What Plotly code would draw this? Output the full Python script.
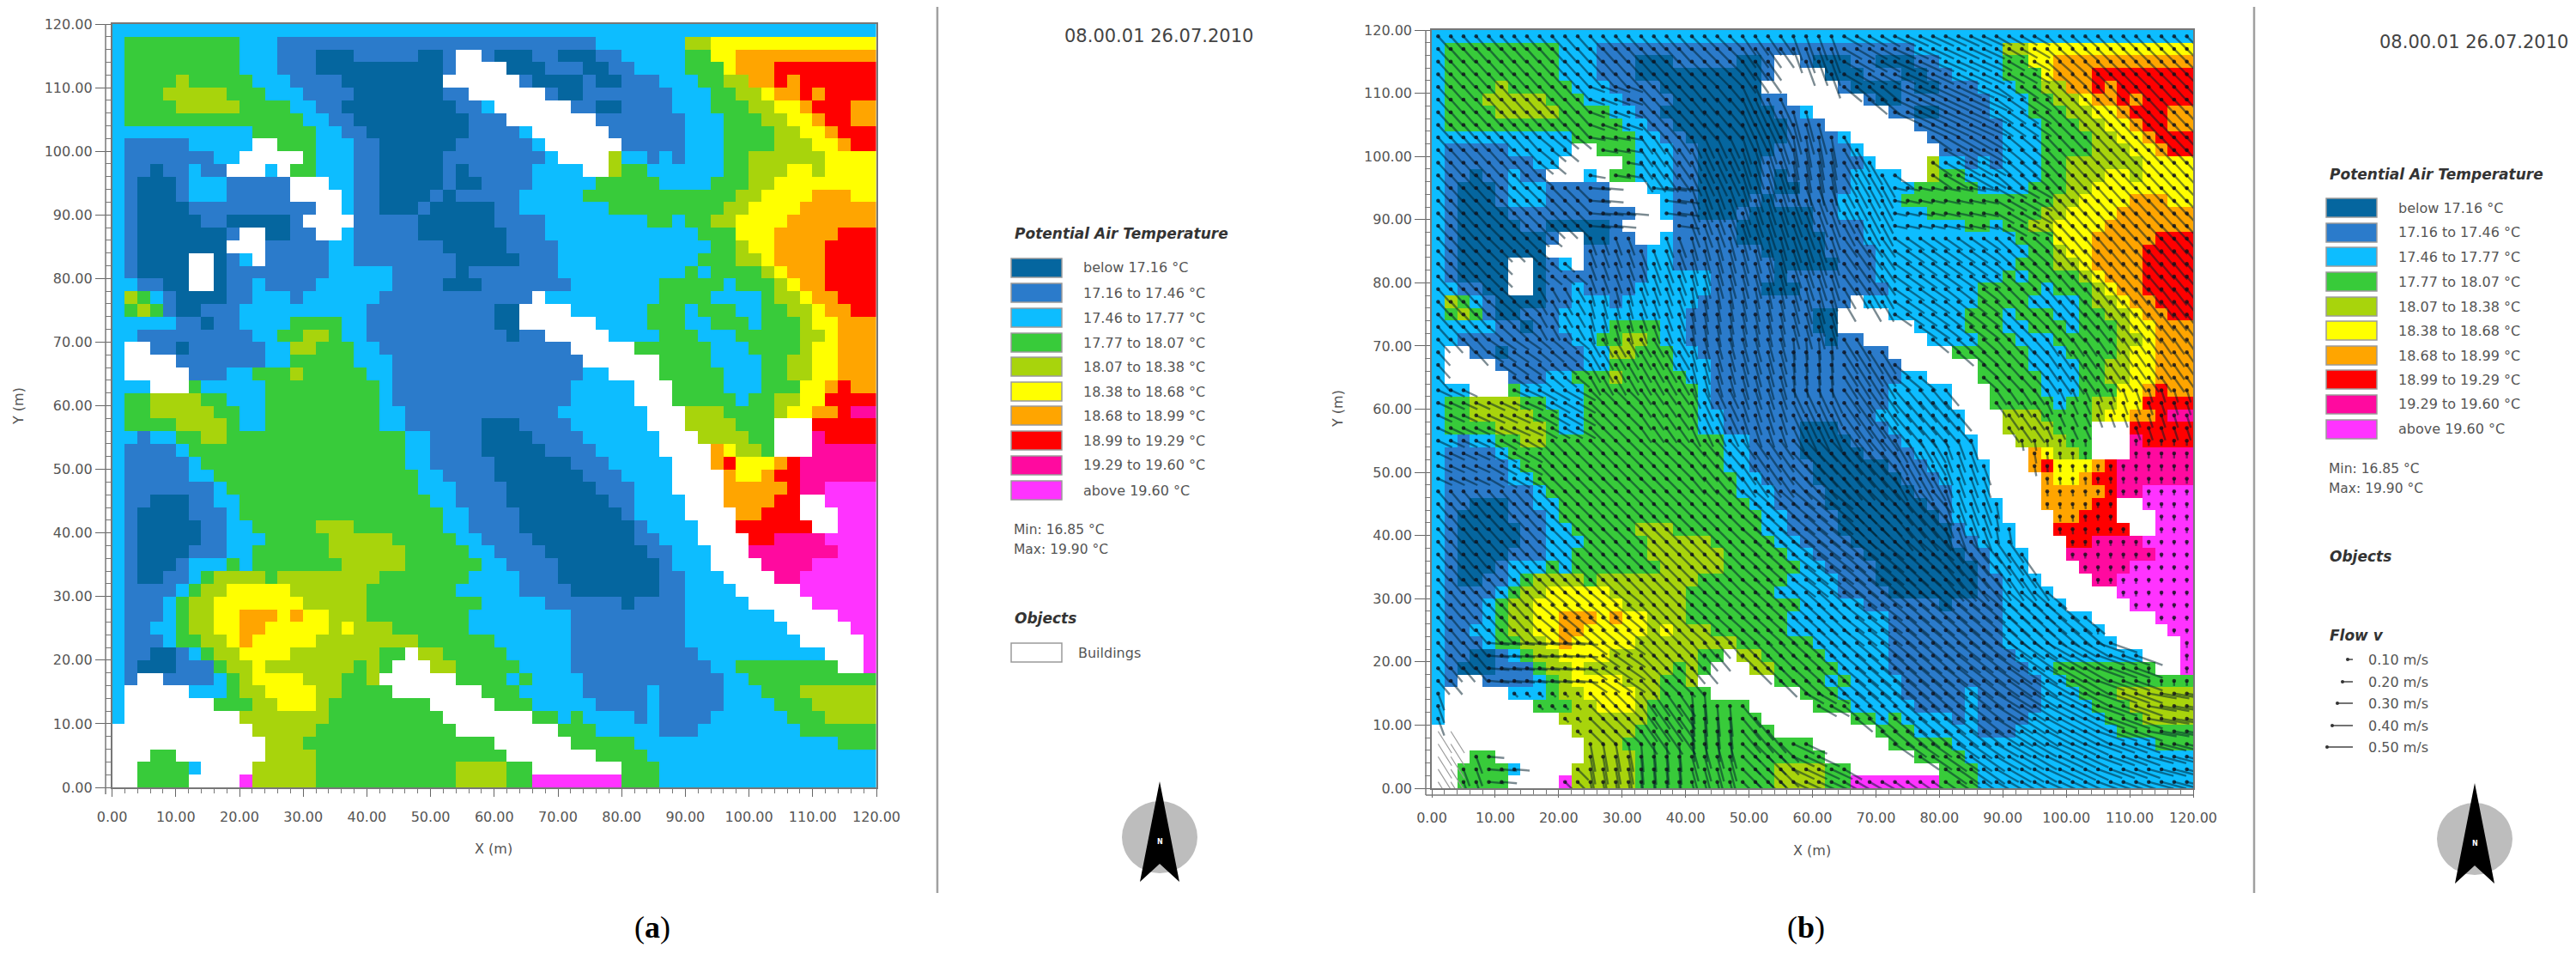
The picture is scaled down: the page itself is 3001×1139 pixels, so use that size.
"""Two ENVI-met style temperature maps, (a) plain and (b) with the flow field on top."""
import math

import plotly.graph_objects as go

WIDTH = 3001
HEIGHT = 1139
FONT = "DejaVu Sans"

LEVEL_LABELS = [
    "below 17.16 °C", "17.16 to 17.46 °C", "17.46 to 17.77 °C", "17.77 to 18.07 °C",
    "18.07 to 18.38 °C", "18.38 to 18.68 °C", "18.68 to 18.99 °C", "18.99 to 19.29 °C",
    "19.29 to 19.60 °C", "above 19.60 °C",
]
LEVEL_COLORS = ["#05669f", "#2b7bcb", "#0dbdff", "#38cb3a", "#a8d40c",
                "#ffff00", "#ffa500", "#ff0000", "#ff0a9f", "#ff33ff"]
FLOW_V = [0.10, 0.20, 0.30, 0.40, 0.50]

# class of each 2 m cell, top row first: "class:last column of the run", w = building
TEMP_RUNS = [
    "2:59",
    "2:0 3:9 2:12 1:37 2:44 4:46 5:59",
    "2:0 3:9 2:12 1:15 0:18 1:23 0:25 1:26 w:28 1:29 0:32 1:34 0:37 1:39 2:44 3:46 5:48 6:59",
    "2:0 3:9 2:12 1:15 0:25 1:26 w:30 0:33 1:36 0:38 1:40 2:44 3:47 5:48 6:51 7:59",
    "2:0 3:4 4:5 3:10 2:13 1:17 0:25 w:31 1:32 0:36 1:37 0:39 1:42 2:45 3:47 4:49 6:51 7:52 6:53 7:59",
    "2:0 3:3 4:8 3:11 2:14 1:18 0:25 1:27 w:33 1:34 0:36 1:43 2:46 3:48 4:50 5:51 6:53 7:54 6:55 7:59",
    "2:0 3:4 4:9 3:13 2:15 1:17 0:26 1:28 2:29 w:35 1:37 0:39 1:43 2:46 3:49 4:51 5:53 6:54 7:57 6:59",
    "2:0 3:14 2:16 1:18 0:27 1:30 w:37 1:44 2:47 3:50 4:52 5:54 6:55 7:57 6:59",
    "2:10 3:15 2:17 1:19 0:27 1:31 2:32 w:38 1:44 2:47 3:51 4:53 5:55 6:56 7:59",
    "2:0 1:5 2:10 w:12 3:15 2:18 1:20 0:26 1:32 2:33 w:39 1:44 2:47 3:51 4:54 5:56 6:57 7:59",
    "2:0 1:7 2:9 w:14 3:15 2:18 1:20 0:25 1:33 2:34 w:38 4:39 2:41 1:42 2:43 1:44 2:47 3:49 4:55 5:59",
    "2:0 1:2 0:3 1:5 2:6 1:8 w:11 2:12 w:13 3:15 2:18 1:20 0:25 1:26 0:27 1:32 2:36 w:38 4:39 3:41 2:47 3:49 4:52 5:54 4:55 5:59",
    "2:0 1:1 0:4 1:5 2:8 1:13 w:16 2:18 1:20 0:25 1:26 0:28 1:32 2:37 3:42 2:46 3:49 4:51 5:59",
    "2:0 1:1 0:4 1:5 2:8 1:13 w:17 2:18 1:20 0:24 1:25 0:26 1:31 2:36 3:48 4:50 5:54 6:57 5:59",
    "2:0 1:1 0:5 1:15 w:17 2:18 1:20 0:23 1:24 0:29 1:31 2:38 3:47 4:49 5:53 6:59",
    "2:0 1:1 0:6 1:8 0:13 1:14 w:18 1:23 0:29 1:33 2:41 3:43 2:44 3:46 4:48 5:52 6:59",
    "2:0 1:1 0:8 1:9 w:11 0:13 1:15 w:17 2:18 1:23 0:30 1:33 2:45 3:48 5:51 6:56 7:59",
    "2:0 1:1 0:8 w:11 1:16 2:18 1:25 0:30 1:34 2:46 3:48 4:49 5:51 6:55 7:59",
    "2:0 1:1 0:5 w:7 0:8 1:9 2:10 w:11 1:16 2:18 1:26 0:31 1:34 2:45 3:48 4:50 5:51 6:55 7:59",
    "2:0 1:1 0:5 w:7 0:8 1:16 2:21 1:26 0:27 1:34 2:44 3:45 2:46 3:50 4:51 5:52 6:55 7:59",
    "2:1 1:3 0:5 w:7 0:8 1:10 2:11 1:15 2:21 1:25 0:28 1:35 2:42 3:47 2:48 3:51 4:52 5:53 6:55 7:59",
    "2:0 4:1 3:2 2:3 1:4 0:8 1:10 2:13 1:14 2:20 1:32 w:33 2:42 3:46 2:50 3:51 4:53 5:54 6:56 7:59",
    "2:0 3:1 4:2 3:3 1:4 0:6 1:9 2:19 1:29 0:31 w:35 2:41 3:44 2:45 3:48 2:50 3:52 4:54 5:55 6:57 7:59",
    "2:4 1:6 0:7 1:9 2:13 3:17 2:19 1:29 0:31 w:37 2:41 3:44 2:46 3:49 2:50 3:53 4:54 5:56 6:59",
    "2:1 1:10 2:12 3:14 4:16 3:17 2:19 1:30 0:31 1:33 w:38 2:42 3:45 2:48 3:53 4:55 5:56 6:59",
    "2:0 w:2 1:4 0:5 1:11 2:13 4:15 3:18 2:20 1:35 w:40 3:46 2:49 3:53 4:54 5:56 6:59",
    "2:0 w:4 1:11 2:13 3:18 2:21 1:36 w:42 3:46 2:50 3:52 4:54 5:56 6:59",
    "2:0 w:5 1:8 2:10 3:13 4:14 3:19 2:21 1:36 2:38 w:42 3:47 2:50 3:52 4:54 5:56 6:59",
    "2:2 w:5 3:6 2:11 3:20 2:21 1:35 2:40 w:43 3:47 2:50 3:53 5:55 6:56 7:57 6:59",
    "2:0 3:2 4:6 3:8 2:11 3:20 2:21 1:35 2:40 w:43 3:48 2:49 3:51 4:53 5:55 7:59",
    "2:0 3:2 4:7 3:9 2:11 3:20 2:22 1:34 2:41 w:44 4:47 3:51 4:52 5:54 6:56 7:57 8:59",
    "2:0 3:4 4:8 3:9 2:11 3:20 2:22 1:28 0:31 1:35 2:41 w:44 4:48 3:51 w:54 7:59",
    "2:1 1:2 2:4 3:6 4:8 3:22 2:24 1:28 0:32 1:36 2:42 w:45 4:49 3:51 w:54 8:55 7:59",
    "2:0 1:4 2:5 3:22 2:24 1:28 0:33 1:37 2:42 w:46 6:47 5:48 4:50 3:51 w:54 8:59",
    "2:0 1:5 2:6 3:22 2:24 1:29 0:35 1:38 2:43 w:46 6:47 7:48 5:51 6:52 7:53 8:59",
    "2:0 1:5 2:7 3:23 2:25 1:29 0:36 1:39 2:43 w:47 6:48 5:50 6:51 7:53 8:59",
    "2:0 1:7 2:8 3:23 2:26 1:30 0:37 1:40 2:43 w:47 6:52 7:53 8:55 9:59",
    "2:0 1:2 0:5 1:7 2:9 3:24 2:26 1:30 0:38 1:40 2:44 w:47 6:51 7:53 w:55 9:59",
    "2:0 1:1 0:5 1:8 2:9 3:25 2:27 1:31 0:39 1:40 2:44 w:48 6:50 7:53 w:56 9:59",
    "2:0 1:1 0:6 1:8 2:10 3:15 4:18 3:25 2:27 1:31 0:40 1:41 2:45 w:48 7:54 w:56 9:59",
    "2:0 1:1 0:6 1:8 2:11 3:16 4:21 3:26 2:28 1:32 0:40 1:42 2:45 w:49 7:51 8:55 9:59",
    "2:0 1:1 0:5 1:8 2:10 3:16 4:22 3:27 2:29 1:33 0:41 1:43 2:46 w:49 8:56 9:59",
    "2:0 1:1 0:4 1:5 2:8 3:9 2:10 3:17 4:22 3:28 2:30 1:34 0:42 1:43 2:46 w:50 8:54 9:59",
    "2:0 1:1 0:3 1:5 2:6 3:7 4:11 3:12 4:20 3:27 2:31 1:34 0:42 1:44 2:47 w:51 8:53 9:59",
    "2:0 1:4 2:5 3:6 4:8 5:13 4:19 3:26 2:31 1:35 0:42 1:44 2:48 w:53 9:59",
    "2:0 1:3 2:4 3:5 4:7 5:14 4:19 3:28 2:33 1:39 0:40 1:44 2:49 w:54 9:59",
    "2:0 1:3 2:4 3:5 4:7 5:9 6:12 5:13 6:14 5:16 4:19 3:27 2:35 1:44 2:51 w:56 9:59",
    "2:0 1:2 2:4 3:5 4:7 5:9 6:11 5:16 4:17 5:18 4:21 3:27 2:35 1:44 2:52 w:57 9:59",
    "2:0 1:3 2:4 3:6 4:8 5:9 6:10 5:15 4:23 3:29 2:35 1:44 2:53 w:58 9:59",
    "2:0 1:2 0:4 1:5 2:6 3:7 4:9 5:13 4:20 3:22 w:23 4:25 3:30 2:35 1:45 2:55 w:58 9:59",
    "2:0 1:1 0:4 1:7 3:8 4:10 5:11 4:18 3:19 4:20 3:21 w:24 4:26 3:31 2:35 1:46 2:48 3:56 w:58 9:59",
    "2:0 1:1 w:3 1:7 2:8 3:9 4:10 5:14 4:17 3:19 4:20 w:26 3:30 2:31 3:32 2:36 1:47 2:49 3:59",
    "2:0 w:5 2:8 3:9 4:11 5:15 4:17 3:21 w:28 3:31 2:36 1:41 2:42 1:47 2:50 3:53 4:59",
    "2:0 w:7 3:10 4:12 5:15 4:16 3:24 w:29 3:32 2:37 1:41 2:42 1:47 2:51 3:54 4:59",
    "2:0 w:9 4:16 3:25 w:32 3:34 2:35 3:36 2:40 1:41 2:42 1:46 2:52 3:55 4:59",
    "w:10 4:15 3:26 w:34 3:37 2:42 1:45 2:53 3:59",
    "w:11 4:14 3:29 w:35 3:40 2:56 3:59",
    "w:2 3:4 w:11 4:15 3:30 w:37 3:41 2:59",
    "w:1 3:5 2:6 w:10 4:15 3:26 4:30 3:32 w:39 3:42 2:59",
    "w:1 3:5 w:9 9:10 4:15 3:26 4:30 3:32 9:39 3:42 2:59",
]

# flow read per 8 m block, top row first: direction from arrow head to tail (degrees)
FLOW_ANGLE = [
    [-48, -48, -48, -48, -48, -45, -55, -70, -30, -25, -25, -30, -42, -45, -45],
    [-48, -48, -48, -20, -48, -50, -65, -75, -40, -25, -25, -35, -45, -47, -47],
    [-48, -48, -40, -10, -55, -65, -72, -80, -60, -35, -30, -40, -47, -47, -47],
    [-48, -45, -45, -5, -8, -70, -72, -70, -62, -12, -12, -30, -48, -48, -47],
    [-48, -45, -40, -70, -70, -75, -75, -72, -55, -35, -35, -42, -50, -50, -50],
    [-48, -42, -60, -75, -70, -80, -78, -75, -60, -35, -38, -45, -50, -52, -52],
    [-48, -35, -40, -60, -60, -75, -75, -85, -58, -40, -42, -48, -55, -55, -55],
    [-25, -25, -30, -45, -55, -65, -72, -65, -55, -50, -50, -55, -65, -70, -72],
    [-25, -30, -45, -45, -45, -50, -55, -48, -50, -60, -70, -80, -85, -88, -90],
    [-50, -48, -45, -45, -45, -45, -42, -40, -45, -50, -70, -80, -85, -90, -90],
    [-50, -48, -45, -45, -45, -45, -42, -38, -40, -42, -50, -55, -90, -90, -90],
    [-50, -48, -40, -40, -45, -42, -42, -42, -38, -40, -40, -42, -40, -90, -90],
    [-50, -5, -5, -35, -45, -50, -45, -42, -40, -40, -38, -35, -30, -20, -90],
    [-70, -45, -45, -45, -55, -85, -50, -30, -40, -40, -38, -32, -28, -20, -10],
    [-70, -5, -45, -80, -85, -75, -45, -25, -30, -35, -35, -30, -25, -20, -15],
]
FLOW_SPEED = [
    [.35, .35, .35, .35, .35, .35, .45, .50, .40, .45, .45, .35, .35, .35, .35],
    [.35, .35, .35, .30, .35, .40, .55, .60, .45, .55, .50, .40, .35, .35, .35],
    [.35, .35, .35, .30, .40, .45, .55, .60, .50, .45, .50, .40, .38, .38, .38],
    [.35, .35, .35, .40, .40, .45, .50, .50, .45, .25, .30, .40, .40, .40, .40],
    [.35, .30, .25, .35, .40, .45, .45, .50, .45, .40, .40, .40, .40, .40, .40],
    [.35, .35, .30, .35, .35, .40, .40, .45, .45, .40, .40, .40, .40, .40, .40],
    [.35, .35, .30, .40, .40, .40, .45, .40, .50, .40, .40, .40, .40, .35, .35],
    [.30, .35, .40, .35, .35, .40, .40, .50, .55, .50, .40, .35, .25, .25, .25],
    [.30, .35, .40, .40, .40, .40, .45, .55, .55, .50, .40, .20, .12, .10, .10],
    [.35, .35, .40, .40, .40, .40, .50, .55, .55, .55, .45, .30, .10, .08, .08],
    [.35, .35, .40, .40, .40, .40, .45, .55, .55, .55, .55, .50, .08, .08, .06],
    [.35, .35, .40, .40, .40, .40, .45, .50, .50, .55, .55, .55, .50, .08, .06],
    [.35, .40, .40, .40, .45, .40, .45, .45, .55, .55, .55, .55, .55, .55, .10],
    [.35, .10, .10, .40, .55, .60, .55, .40, .40, .50, .50, .55, .55, .55, .55],
    [.35, .30, .30, .55, .55, .50, .50, .45, .40, .45, .50, .50, .50, .50, .50],
]

# pale arrows that still show on the building in the bottom left corner: (column, row)
CORNER_CELLS = [(0, 55), (1, 55), (0, 56), (1, 56), (0, 57), (1, 57), (0, 58), (1, 58), (0, 59), (1, 59)]
CORNER_ANGLE = -58
CORNER_SPEED = 0.5

M_PER_MS = 8.1  # arrow length on the map, metres for 1 m/s
PX_PER_MS = 60  # same scale in the flow legend


def px(x):
    return x / WIDTH


def py(y):
    return 1 - y / HEIGHT


def expand_runs(runs):
    grid = []
    for row in runs:
        cells = []
        for token in row.split():
            level, last = token.split(":")
            value = None if level == "w" else int(level)
            cells += [value] * (int(last) + 1 - len(cells))
        grid.append(cells)
    return grid


def arrow(xs, ys, c, r, angle_deg, speed):
    x0, y0 = 1 + 2 * c, 119 - 2 * r
    angle = math.radians(angle_deg)
    length = speed * M_PER_MS
    xs += [x0, x0 + length * math.cos(angle), None]
    ys += [y0, y0 + length * math.sin(angle), None]
    return x0, y0


def flow_segments(grid):
    xs, ys, head_x, head_y = [], [], [], []
    for r, row in enumerate(grid):
        for c, value in enumerate(row):
            if value is None:
                continue
            x0, y0 = arrow(xs, ys, c, r, FLOW_ANGLE[r // 4][c // 4], FLOW_SPEED[r // 4][c // 4])
            head_x.append(x0)
            head_y.append(y0)
    return xs, ys, head_x, head_y


def text(fig, x, y, s, size=16, anchor="left", color="#555555", angle=0):
    fig.add_annotation(x=px(x), y=py(y), xref="paper", yref="paper", text=s, showarrow=False,
                       xanchor=anchor, yanchor="middle", textangle=angle,
                       font=dict(family=FONT, size=size, color=color))


def rect(fig, x0, y0, x1, y1, fill, line="#9a9a9a"):
    fig.add_shape(type="rect", xref="paper", yref="paper", x0=px(x0), x1=px(x1), y0=py(y1), y1=py(y0),
                  fillcolor=fill, line=dict(color=line, width=1.5))


def line(fig, x0, y0, x1, y1, color="#777777", width=1.5):
    fig.add_shape(type="line", xref="paper", yref="paper", x0=px(x0), x1=px(x1), y0=py(y0), y1=py(y1),
                  line=dict(color=color, width=width))


def north_arrow(fig, cx, cy):
    fig.add_shape(type="circle", xref="paper", yref="paper", x0=px(cx - 44), x1=px(cx + 44),
                  y0=py(cy + 42), y1=py(cy - 42), fillcolor="#bdbdbd", line=dict(width=0))
    path = (f"M {px(cx)} {py(cy - 65)} L {px(cx + 23)} {py(cy + 52)} L {px(cx)} {py(cy + 31)} "
            f"L {px(cx - 23)} {py(cy + 52)} Z")
    fig.add_shape(type="path", xref="paper", yref="paper", path=path, fillcolor="#000000",
                  line=dict(width=0))
    text(fig, cx, cy + 5, "<b>N</b>", size=8, anchor="center", color="#ffffff")


def legend_panel(fig, x, title_y, row_ys, stats_y, objects_y):
    text(fig, x + 2, title_y, "<b><i>Potential Air Temperature</i></b>", size=17, color="#333333")
    for label, color, y in zip(LEVEL_LABELS, LEVEL_COLORS, row_ys):
        rect(fig, x, y - 11, x + 59, y + 11, color)
        text(fig, x + 82, y, label)
    text(fig, x + 1, stats_y[0], "Min: 16.85 °C", size=15.5)
    text(fig, x + 1, stats_y[1], "Max: 19.90 °C", size=15.5)
    text(fig, x + 2, objects_y, "<b><i>Objects</i></b>", size=17, color="#333333")


grid = expand_runs(TEMP_RUNS)
x_centers = [1 + 2 * c for c in range(60)]
y_centers = [119 - 2 * r for r in range(60)]
colorscale = []
for i, color in enumerate(LEVEL_COLORS):
    colorscale += [[i / 10, color], [(i + 1) / 10, color]]

fig = go.Figure()
for suffix in ("", "2"):
    fig.add_trace(go.Heatmap(x=x_centers, y=y_centers, z=grid, zmin=-0.5, zmax=9.5, colorscale=colorscale,
                             showscale=False, hoverongaps=False, xaxis="x" + suffix, yaxis="y" + suffix))

seg_x, seg_y, head_x, head_y = flow_segments(grid)
fig.add_trace(go.Scatter(x=seg_x, y=seg_y, mode="lines", xaxis="x2", yaxis="y2", showlegend=False,
                         line=dict(color="rgba(0,30,45,0.52)", width=2.4)))
fig.add_trace(go.Scatter(x=head_x, y=head_y, mode="markers", xaxis="x2", yaxis="y2", showlegend=False,
                         marker=dict(color="rgba(15,15,25,0.8)", size=4.5)))
corner_x, corner_y = [], []
for c, r in CORNER_CELLS:
    arrow(corner_x, corner_y, c, r, CORNER_ANGLE, CORNER_SPEED)
fig.add_trace(go.Scatter(x=corner_x, y=corner_y, mode="lines", xaxis="x2", yaxis="y2", showlegend=False,
                         line=dict(color="#9a9a9a", width=1.2)))

tick_style = dict(range=[0, 120], dtick=10, tick0=0, tickformat=".2f", ticks="outside", showgrid=False,
                  zeroline=False, showline=True, mirror=True, linecolor="#777777", linewidth=1.5,
                  automargin=False, tickcolor="#666666", tickfont=dict(family=FONT, size=16, color="#555555"))
panels = [("", "", 130.6, 1021, 28, 917), ("2", "2", 1668, 2555, 35, 918)]
layout_axes = {}
for xs, ys, left, right, top, bottom in panels:
    layout_axes["xaxis" + xs] = dict(tick_style, domain=[px(left), px(right)], anchor="y" + ys, ticklen=9,
                                     ticklabelstandoff=10,
                                     minor=dict(dtick=2, ticks="outside", ticklen=5, tickcolor="#777777"))
    layout_axes["yaxis" + ys] = dict(tick_style, domain=[py(bottom), py(top)], anchor="x" + xs, ticklen=18,
                                     minor=dict(dtick=2, ticks="outside", ticklen=6, tickcolor="#777777"))
fig.update_layout(width=WIDTH, height=HEIGHT, margin=dict(l=0, r=0, t=0, b=0), autosize=False,
                  paper_bgcolor="#ffffff", plot_bgcolor="#ffffff", showlegend=False, **layout_axes)

# second axis lines beside the plots, dividers and axis names
line(fig, 123, 28, 123, 925)
line(fig, 1661, 35, 1661, 926)
line(fig, 1661, 926, 2555, 926)
line(fig, 1092, 8, 1092, 1040, color="#a0a0a0", width=2.5)
line(fig, 2626, 8, 2626, 1040, color="#a0a0a0", width=2.5)
text(fig, 575, 988, "X (m)", anchor="center")
text(fig, 2111, 990, "X (m)", anchor="center")
text(fig, 21, 473, "Y (m)", anchor="center", angle=-90)
text(fig, 1558, 476, "Y (m)", anchor="center", angle=-90)

text(fig, 1350, 42, "08.00.01 26.07.2010", size=21, anchor="center", color="#444444")
text(fig, 2882, 49, "08.00.01 26.07.2010", size=21, anchor="center", color="#444444")

legend_panel(fig, 1178, 272, [312, 341, 370, 399, 427, 456, 484, 513, 542, 571], (617, 640), 720)
rect(fig, 1178, 749, 1237, 771, "#ffffff")
text(fig, 1254, 760, "Buildings")
north_arrow(fig, 1351, 975)

legend_panel(fig, 2710, 203, [242, 271, 299, 328, 357, 385, 414, 442, 471, 500], (546, 569), 648)
text(fig, 2712, 740, "<b><i>Flow v</i></b>", size=17, color="#333333")
for speed, y in zip(FLOW_V, [768, 794, 819, 845, 870]):
    start = 2741 - speed * PX_PER_MS
    line(fig, start, y, 2741, y, color="#444444", width=1.5)
    fig.add_shape(type="circle", xref="paper", yref="paper", x0=px(start - 2), x1=px(start + 2),
                  y0=py(y + 2), y1=py(y - 2), fillcolor="#333333", line=dict(width=0))
    text(fig, 2757, y, f"{speed:.2f} m/s")
north_arrow(fig, 2883, 977)

for x, label in ((737, "(<b>a</b>)"), (2128, "(<b>b</b>)")):
    fig.add_annotation(x=px(x), y=py(1102), xref="paper", yref="paper", text=label, showarrow=False,
                       font=dict(family="Liberation Serif", size=36, color="#000000"))

# the page body's default margin would push everything 8 px off
fig.write_html("out.html", config=dict(displayModeBar=False),
               post_script="document.body.style.margin = '0';")
